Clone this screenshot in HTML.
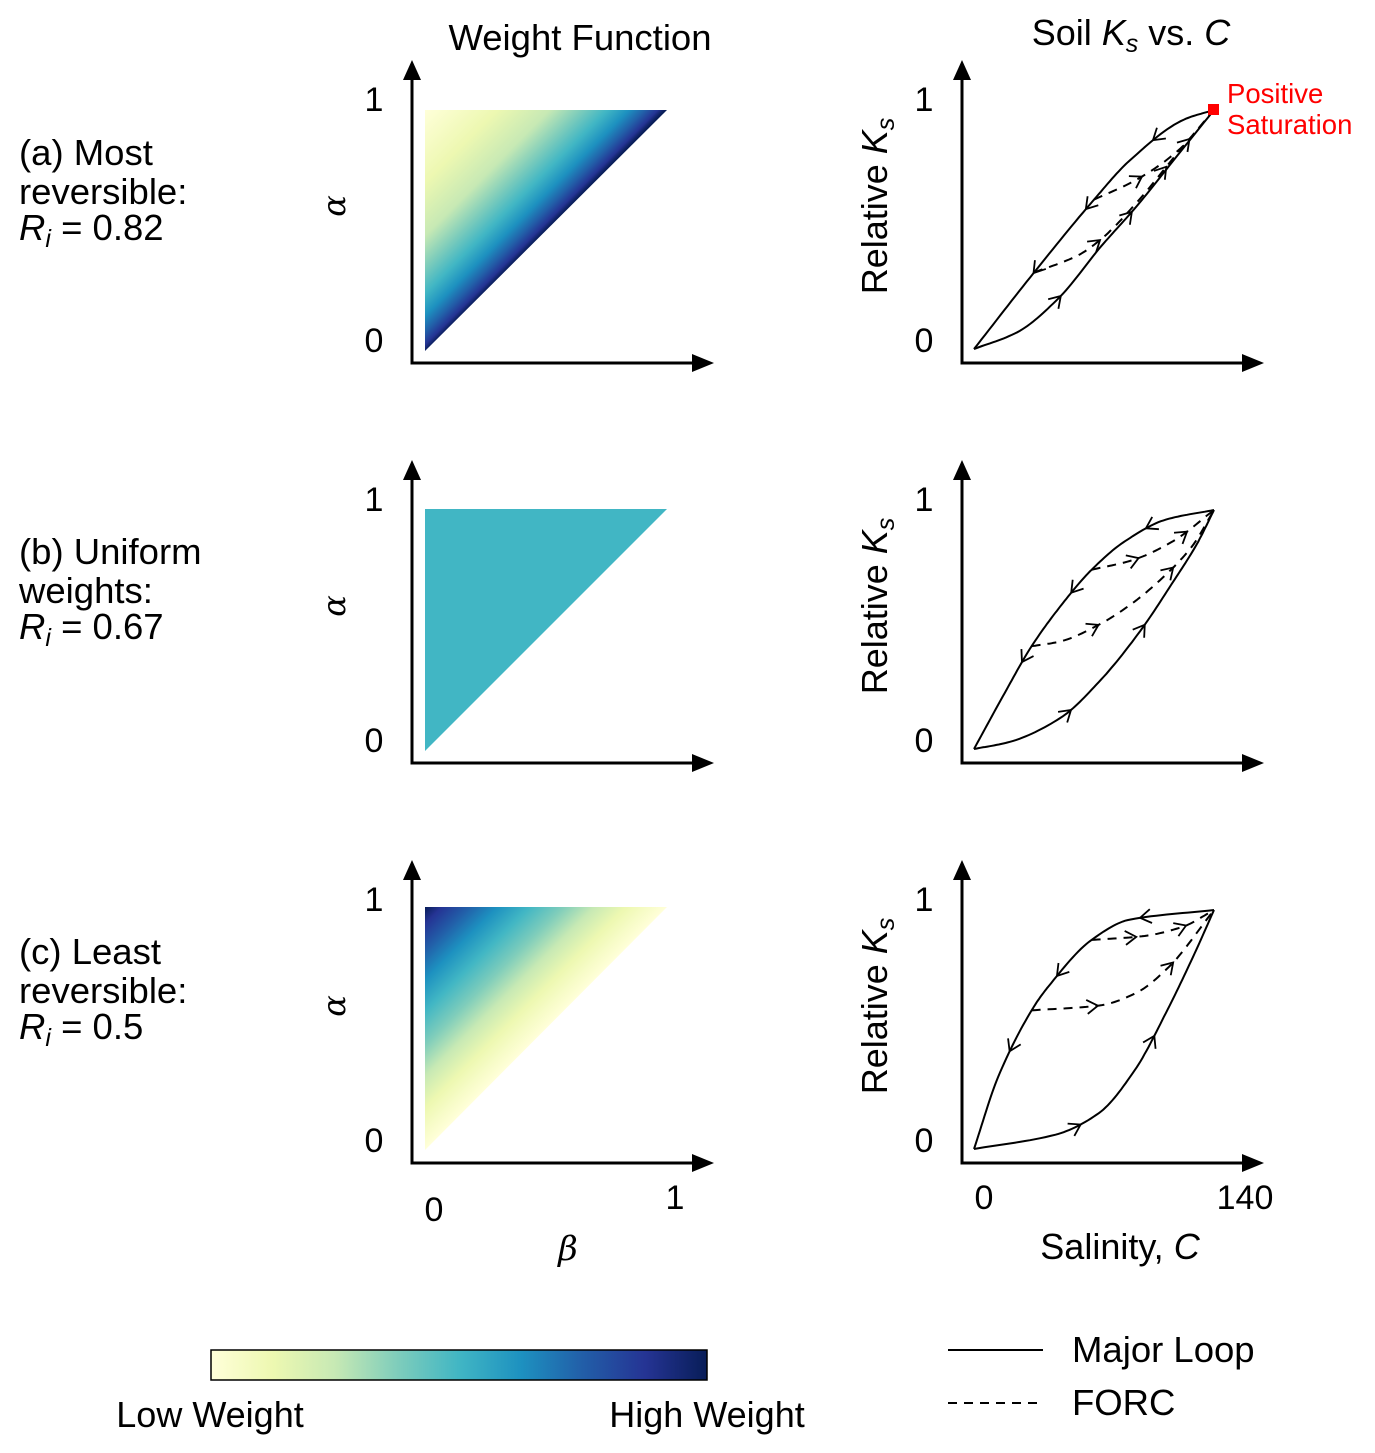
<!DOCTYPE html>
<html><head><meta charset="utf-8"><style>
html,body{margin:0;padding:0;background:#fff;}
svg{display:block;font-family:"Liberation Sans",sans-serif;}
</style></head><body>
<svg id="fig" width="1375" height="1453" viewBox="0 0 1375 1453">
<defs>
<linearGradient id="cmapH" x1="0" y1="0" x2="1" y2="0">
<stop offset="0" stop-color="#ffffd9"/><stop offset="0.125" stop-color="#edf8b1"/><stop offset="0.25" stop-color="#c7e9b4"/><stop offset="0.375" stop-color="#7fcdbb"/><stop offset="0.5" stop-color="#41b6c4"/><stop offset="0.625" stop-color="#1d91c0"/><stop offset="0.75" stop-color="#225ea8"/><stop offset="0.875" stop-color="#253494"/><stop offset="1" stop-color="#081d58"/>
</linearGradient>
<linearGradient id="gradA" gradientUnits="userSpaceOnUse" x1="425" y1="110" x2="546" y2="230">
<stop offset="0" stop-color="#ffffd9"/><stop offset="0.3" stop-color="#edf8b1"/><stop offset="0.52" stop-color="#c7e9b4"/><stop offset="0.65" stop-color="#7fcdbb"/><stop offset="0.76" stop-color="#41b6c4"/><stop offset="0.85" stop-color="#1d91c0"/><stop offset="0.92" stop-color="#225ea8"/><stop offset="0.97" stop-color="#253494"/><stop offset="1" stop-color="#081d58"/>
</linearGradient>
<linearGradient id="gradC" gradientUnits="userSpaceOnUse" x1="425" y1="907" x2="546" y2="1028">
<stop offset="0" stop-color="#081d58"/><stop offset="0.07" stop-color="#253494"/><stop offset="0.18" stop-color="#225ea8"/><stop offset="0.3" stop-color="#1d91c0"/><stop offset="0.43" stop-color="#41b6c4"/><stop offset="0.57" stop-color="#7fcdbb"/><stop offset="0.7" stop-color="#c7e9b4"/><stop offset="0.83" stop-color="#edf8b1"/><stop offset="1" stop-color="#ffffd9"/>
</linearGradient>
</defs>

<text x="580" y="50" font-size="36.5" text-anchor="middle">Weight Function</text>
<text x="1131" y="45" font-size="36" text-anchor="middle">Soil <tspan font-style="italic">K</tspan><tspan font-style="italic" font-size="25" dy="7">s</tspan><tspan dy="-7"> vs. </tspan><tspan font-style="italic">C</tspan></text>

<g font-size="36.5">
<text x="19" y="165">(a) Most</text><text x="19" y="204">reversible:</text>
<text x="19" y="240"><tspan font-style="italic">R</tspan><tspan font-style="italic" font-size="25" dy="7">i</tspan><tspan dy="-7"> = 0.82</tspan></text></g>
<g font-size="36.5">
<text x="19" y="564">(b) Uniform</text><text x="19" y="603">weights:</text>
<text x="19" y="639"><tspan font-style="italic">R</tspan><tspan font-style="italic" font-size="25" dy="7">i</tspan><tspan dy="-7"> = 0.67</tspan></text></g>
<g font-size="36.5">
<text x="19" y="964">(c) Least</text><text x="19" y="1003">reversible:</text>
<text x="19" y="1039"><tspan font-style="italic">R</tspan><tspan font-style="italic" font-size="25" dy="7">i</tspan><tspan dy="-7"> = 0.5</tspan></text></g>

<polygon points="425,110 667,110 425,351" fill="url(#gradA)"/>
<polygon points="425,509 667,509 425,751" fill="#41b6c4"/>
<polygon points="425,907 667,907 425,1150" fill="url(#gradC)"/>

<g id="axes"></g>
<g id="curves"></g>

<rect x="1208" y="104" width="11" height="11" fill="#ff0000"/>
<text x="1227" y="103" font-size="27.5" fill="#ff0000">Positive</text>
<text x="1227" y="134" font-size="27.5" fill="#ff0000">Saturation</text>

<text x="434" y="1221" font-size="34" text-anchor="middle">0</text>
<text x="675" y="1209" font-size="34" text-anchor="middle">1</text>
<text x="568" y="1260" font-size="34" font-family="DejaVu Serif, serif" font-style="italic" text-anchor="middle">β</text>
<text x="984" y="1209" font-size="34" text-anchor="middle">0</text>
<text x="1245" y="1209" font-size="34" text-anchor="middle">140</text>
<text x="1120" y="1259" font-size="36" text-anchor="middle">Salinity, <tspan font-style="italic">C</tspan></text>

<rect x="211" y="1350" width="496" height="30" fill="url(#cmapH)" stroke="#000" stroke-width="1.5"/>
<text x="210" y="1427" font-size="36" text-anchor="middle">Low Weight</text>
<text x="707" y="1427" font-size="36" text-anchor="middle">High Weight</text>

<line x1="948" y1="1350" x2="1043" y2="1350" stroke="#000" stroke-width="2"/>
<text x="1072" y="1362" font-size="36.5">Major Loop</text>
<line x1="948" y1="1403" x2="1043" y2="1403" stroke="#000" stroke-width="2" stroke-dasharray="9,7"/>
<text x="1072" y="1415" font-size="36.5">FORC</text>
</svg>
<script>
// Data (normalized coordinates 0..1 in salinity / relative Ks)
const rowOffsets = [0, 400, 800];
const upperA = [[0,0],[0.25,0.32],[0.5,0.625],[0.65,0.79],[0.875,0.96],[1,1]];
const lowerA = [[0,0],[0.18,0.07],[0.35,0.21],[0.53,0.43],[0.68,0.6],[0.84,0.8],[1,1]];
const forc1A = [[0.25,0.32],[0.43,0.39],[0.53,0.46],[0.68,0.615],[0.84,0.81],[1,1]];
const forc2A = [[0.5,0.625],[0.68,0.71],[0.85,0.83],[1,1]];
const upperB = [[0,0],[0.12,0.22],[0.24,0.43],[0.37,0.61],[0.49,0.75],[0.63,0.87],[0.8,0.96],[1,1]];
const lowerB = [[0,0],[0.15,0.03],[0.36,0.13],[0.52,0.28],[0.69,0.49],[0.83,0.7],[0.93,0.86],[1,1]];
const forc1B = [[0.24,0.43],[0.36,0.45],[0.52,0.52],[0.66,0.61],[0.8,0.73],[0.91,0.85],[1,1]];
const forc2B = [[0.49,0.75],[0.66,0.79],[0.83,0.87],[1,1]];
const upperC = [[0,0],[0.1,0.3],[0.24,0.58],[0.31,0.68],[0.49,0.875],[0.65,0.96],[1,1]];
const lowerC = [[0,0],[0.34,0.06],[0.52,0.15],[0.67,0.33],[0.8,0.57],[0.92,0.82],[1,1]];
const forc1C = [[0.24,0.58],[0.52,0.6],[0.67,0.65],[0.81,0.76],[1,1]];
const forc2C = [[0.49,0.875],[0.7,0.89],[0.87,0.93],[1,1]];
const rowsData = [[upperA,lowerA,forc1A,forc2A],[upperB,lowerB,forc1B,forc2B],[upperC,lowerC,forc1C,forc2C]];
const yTickLabels = ["0","1"];

const NS = "http://www.w3.org/2000/svg";
const axesG = document.getElementById('axes');
const curvesG = document.getElementById('curves');
function mk(tag, attrs, parent){const e=document.createElementNS(NS,tag);for(const k in attrs)e.setAttribute(k,attrs[k]);parent.appendChild(e);return e;}
const X0 = 974, XW = 240;
function xs(v){return X0 + v*XW;}
function ys(v, off){return 349 + off - v*239;}

function drawAxes(x0, off, which, r){
  const g = mk('g',{},axesG);
  
  
  mk('line',{x1:x0,y1:363+off,x2:x0,y2:80+off,stroke:'#000','stroke-width':3},g);
  mk('polygon',{points:`${x0-9},${80+off} ${x0+9},${80+off} ${x0},${60+off}`,fill:'#000'},g);
  mk('line',{x1:x0-1.5,y1:363+off,x2:x0+280,y2:363+off,stroke:'#000','stroke-width':3},g);
  mk('polygon',{points:`${x0+280},${354+off} ${x0+280},${372+off} ${x0+302},${363+off}`,fill:'#000'},g);
  const tx = which==='weight' ? 374 : 924;
  const t1 = mk('text',{x:tx,y:111+off,'font-size':34,'text-anchor':'middle'},g);
  
  
  t1.textContent = yTickLabels[1];
  const t0 = mk('text',{x:tx,y:352+off,'font-size':34,'text-anchor':'middle'},g);
  
  
  t0.textContent = yTickLabels[0];
  if(which==='weight'){
    const a = mk('text',{x:0,y:0,'font-size':32,'font-family':'DejaVu Serif, serif','font-style':'italic','text-anchor':'middle',transform:`translate(345,${206+off}) rotate(-90)`},g);
    
    
    a.textContent = 'α';
  } else {
    const a = mk('text',{x:0,y:0,'font-size':36,'text-anchor':'middle',transform:`translate(887,${206+off}) rotate(-90)`},g);
    
    
    a.innerHTML = 'Relative <tspan font-style="italic">K</tspan><tspan font-style="italic" font-size="25" dy="7">s</tspan>';
  }
}

// monotone cubic interpolation in x
function sample(pts, off){
  const n=pts.length, X=pts.map(p=>p[0]), Y=pts.map(p=>p[1]);
  const d=[], m=new Array(n);
  for(let i=0;i<n-1;i++)d.push((Y[i+1]-Y[i])/(X[i+1]-X[i]));
  m[0]=d[0]; m[n-1]=d[n-2];
  for(let i=1;i<n-1;i++){m[i]=(d[i-1]*d[i]<=0)?0:2/(1/d[i-1]+1/d[i]);}
  const out=[];
  for(let i=0;i<n-1;i++){
    const h=X[i+1]-X[i];
    for(let s=0;s<16;s++){
      const t=s/16,t2=t*t,t3=t2*t;
      const y=(2*t3-3*t2+1)*Y[i]+(t3-2*t2+t)*h*m[i]+(-2*t3+3*t2)*Y[i+1]+(t3-t2)*h*m[i+1];
      out.push([xs(X[i]+t*h), ys(y,off)]);
    }
  }
  out.push([xs(X[n-1]),ys(Y[n-1],off)]);
  return out;
}
function arrowAt(S, frac, reverse, g){
  let L=[0];for(let i=1;i<S.length;i++)L.push(L[i-1]+Math.hypot(S[i][0]-S[i-1][0],S[i][1]-S[i-1][1]));
  const target=frac*L[L.length-1];let i=1;while(i<S.length-1&&L[i]<target)i++;
  let dx=S[i][0]-S[i-1][0],dy=S[i][1]-S[i-1][1];const n=Math.hypot(dx,dy)||1;dx/=n;dy/=n;
  if(reverse){dx=-dx;dy=-dy;}
  const tt=(target-L[i-1])/((L[i]-L[i-1])||1);
  const px=S[i-1][0]+(S[i][0]-S[i-1][0])*tt, py=S[i-1][1]+(S[i][1]-S[i-1][1])*tt;
  const len=11,w=7;
  const bx=px-dx*len,by=py-dy*len;
  const dd=`M${bx-dy*w},${by+dx*w} L${px},${py} L${bx+dy*w},${by-dx*w}`;
  const a = mk('path',{d:dd,fill:'none',stroke:'#000','stroke-width':1.8},g);
  
  
}
function drawCurve(pts, off, dashed, name, arrows, reverse){
  const S = sample(pts, off);
  const p = mk('path',{d:'M'+S.map(q=>q[0].toFixed(1)+','+q[1].toFixed(1)).join(' L'),fill:'none',stroke:'#000','stroke-width':2},curvesG);
  if(dashed)p.setAttribute('stroke-dasharray','9,7');
  
  
  arrows.forEach(f=>arrowAt(S,f,reverse,curvesG));
}

rowsData.forEach((d,r)=>{
  const off = rowOffsets[r];
  drawAxes(412, off, 'weight', r);
  drawAxes(962, off, 'ks', r);
  drawCurve(d[0], off, false, 'major-loop-upper', [0.28,0.52,0.8], true);
  drawCurve(d[1], off, false, 'major-loop-lower', [0.3,0.62], false);
  drawCurve(d[2], off, true, 'forc-1', [0.3,0.7], false);
  drawCurve(d[3], off, true, 'forc-2', [0.35,0.75], false);
});
</script>
</body></html>
